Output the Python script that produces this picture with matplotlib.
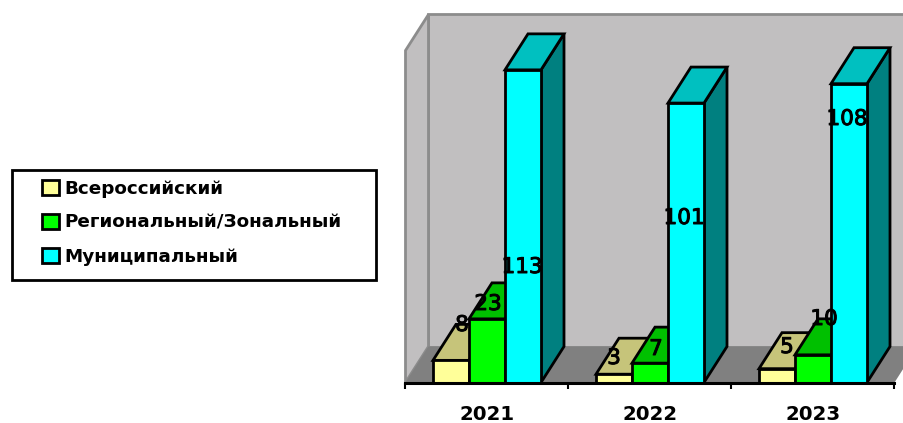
from matplotlib import pyplot as plt
from matplotlib import patheffects
from matplotlib.patches import Polygon, Rectangle, Patch

years = ['2021', '2022', '2023']
series = ['Всероссийский', 'Региональный/Зональный', 'Муниципальный']
vserossiyskiy = [8, 3, 5]
regionalnyy = [23, 7, 10]
municipalnyy = [113, 101, 108]

# front, top and side colours of each series
front_colors = ['#FFFF99', '#00FF00', '#00FFFF']
top_colors = ['#C6C47A', '#00C000', '#00C0C0']
side_colors = ['#99994D', '#008000', '#008080']

# hand placed value labels, in pixels of the picture
label_pos = [[(462, 325), (614, 358), (787, 347)],
             [(488, 304), (656, 349), (824, 319)],
             [(522, 267), (684, 218), (847, 119)]]

W, H = 904, 423
FONT = 'DejaVu Sans'

fig = plt.figure(figsize=(W / 100, H / 100), dpi=100, facecolor='white')
ax = fig.add_axes([405.5 / W, 1 - 382.5 / H, 489 / W, 332 / H])
ax.set_xlim(-0.5, 2.5)
ax.set_ylim(0, 120)
ax.patch.set_visible(False)
for s in ax.spines.values():
	s.set_visible(False)

# depth of the fake 3d, in data units
dx = 23 / 163
dy = 36 / (332 / 120)
bar_w = 36 / 163
x0, x1 = ax.get_xlim()
y1 = ax.get_ylim()[1]
gray = '#8C8C8C'

# walls and floor
ax.add_patch(Polygon([(x0 + dx, dy), (x1 + dx, dy), (x1 + dx, y1 + dy), (x0 + dx, y1 + dy)],
	facecolor='#C1BFC0', edgecolor=gray, lw=2, clip_on=False, zorder=1))
ax.add_patch(Polygon([(x0, 0), (x0 + dx, dy), (x0 + dx, y1 + dy), (x0, y1)],
	facecolor='#C1BFC0', edgecolor=gray, lw=2, clip_on=False, zorder=1))
ax.add_patch(Polygon([(x0, 0), (x1, 0), (x1 + dx, dy), (x0 + dx, dy)],
	facecolor='#808080', edgecolor='none', clip_on=False, zorder=2))

values = [vserossiyskiy, regionalnyy, municipalnyy]
z = 3
for i in range(len(years)):
	for j in range(len(series)):
		v = values[j][i]
		left = i + (j - 1.5) * bar_w
		right = left + bar_w
		ax.add_patch(Polygon([(right, 0), (right + dx, dy), (right + dx, v + dy), (right, v)],
			facecolor=side_colors[j], edgecolor='black', lw=2, joinstyle='miter', clip_on=False, zorder=z))
		ax.add_patch(Polygon([(left, v), (right, v), (right + dx, v + dy), (left + dx, v + dy)],
			facecolor=top_colors[j], edgecolor='black', lw=2, joinstyle='miter', clip_on=False, zorder=z))
		ax.bar(i + (j - 1) * bar_w, v, width=bar_w, color=front_colors[j], edgecolor='black',
			linewidth=2, clip_on=False, zorder=z + 1)
		z += 2

# category axis
ax.set_xticks([x0, 0.5, 1.5, x1], labels=[])
ax.set_yticks([])
ax.tick_params(axis='x', length=4, width=1.5, color='black', pad=0)
ax.plot([x0, x1], [0, 0], color='black', lw=2.2, clip_on=False, zorder=z)
for i, year in enumerate(years):
	ax.annotate(year, (i, 0), xytext=(0, -32), textcoords='offset pixels', ha='center', va='center',
		fontsize=14.2, fontweight='bold', family=FONT, color='black', annotation_clip=False)

# value labels, regular weight thickened a little
thick = [patheffects.withStroke(linewidth=0.7, foreground='black')]
for j in range(len(series)):
	for i in range(len(years)):
		px, py = label_pos[j][i]
		fig.text(px / W, 1 - py / H, str(values[j][i]), ha='center', va='center',
			fontsize=15.5, family=FONT, color='black', path_effects=thick, zorder=z + 5)

# legend
fig.add_artist(Rectangle((11.5 / W, 1 - 280 / H), 365 / W, 110 / H, transform=fig.transFigure,
	facecolor='white', edgecolor='black', lw=2))
handles = [Patch(facecolor=c, edgecolor='black', lw=2) for c in front_colors]
fig.legend(handles, series, loc='upper left', bbox_to_anchor=(42 / W, 1 - 180 / H), frameon=False,
	borderpad=0, borderaxespad=0, handlelength=0.9, handleheight=0.9, handletextpad=0.3,
	labelspacing=0.86, prop={'family': FONT, 'weight': 'bold', 'size': 13.2})

fig.savefig('out.png', dpi=100)
